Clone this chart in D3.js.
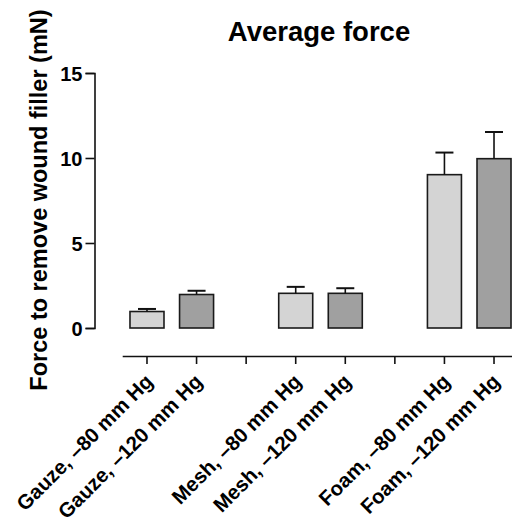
<!DOCTYPE html>
<html>
<head>
<meta charset="utf-8">
<script src="https://cdn.jsdelivr.net/npm/d3@7"></script>
<style>
  body { margin: 0; background: #fff; }
  svg text { font-family: "Liberation Sans", Arial, Helvetica, sans-serif; font-weight: bold; }
</style>
</head>
<body>
<div id="chart"></div>
<script>
	/*Data*/
	var slots = ["Gauze, \u201380 mm Hg", "Gauze, \u2013120 mm Hg", "gap1",
				 "Mesh, \u201380 mm Hg", "Mesh, \u2013120 mm Hg", "gap2",
				 "Foam, \u201380 mm Hg", "Foam, \u2013120 mm Hg"];
	var groups = ["Gauze, \u201380 mm Hg", "Gauze, \u2013120 mm Hg",
				  "Mesh, \u201380 mm Hg", "Mesh, \u2013120 mm Hg",
				  "Foam, \u201380 mm Hg", "Foam, \u2013120 mm Hg"];
	var means = [0.97, 1.97, 2.04, 2.04, 9.02, 9.96];
	var errors = [0.15, 0.22, 0.38, 0.3, 1.3, 1.57];
	var pressure = ["80", "120", "80", "120", "80", "120"];
	var yTicks = [0, 5, 10, 15];

	/*SVG Size*/
	var width = 512;
	var height = 525;

	var svg = d3.select("#chart").append("svg")
				.attr("width", width)
				.attr("height", height);

	/*Scales*/
	var x = d3.scaleBand()
			  .domain(slots)
			  .range([122.2, 518.8])
			  .paddingInner(0.314)
			  .paddingOuter(0.157);

	var y = d3.scaleLinear()
			  .domain([0, 15])
			  .range([328, 73]);

	var fill = d3.scaleOrdinal()
				 .domain(["80", "120"])
				 .range(["#d4d4d4", "#a0a0a0"]);

	/*Title*/
	svg.append("text")
	   .attr("x", 319)
	   .attr("y", 41)
	   .attr("text-anchor", "middle")
	   .attr("font-size", 27.5)
	   .text("Average force");

	/*Y axis*/
	var yAxis = svg.append("g")
				   .attr("transform", "translate(94.5,0)")
				   .call(d3.axisLeft(y).tickValues(yTicks).tickSize(9).tickPadding(3));
	yAxis.select(".domain").attr("stroke", "#111").attr("stroke-width", 1.6);
	yAxis.selectAll(".tick line").attr("stroke", "#111").attr("stroke-width", 1.6);
	yAxis.selectAll(".tick text")
		 .attr("font-size", 20)
		 .attr("fill", "#000")
		 .attr("dy", "0.36em");

	svg.append("text")
	   .attr("transform", "translate(47,200) rotate(-90)")
	   .attr("text-anchor", "middle")
	   .attr("font-size", 23.5)
	   .text("Force to remove wound filler (mN)");

	/*X axis*/
	var xAxis = svg.append("g")
				   .attr("transform", "translate(0,356)")
				   .call(d3.axisBottom(x).tickSize(8).tickSizeOuter(0)
				   .tickFormat(function(d){ return d.indexOf("gap") === 0 ? "" : d; }));
	xAxis.select(".domain").attr("stroke", "#111").attr("stroke-width", 1.6);
	xAxis.selectAll(".tick line").attr("stroke", "#111").attr("stroke-width", 1.6);
	xAxis.selectAll(".tick text")
		 .attr("font-size", 20.5)
		 .attr("fill", "#000")
		 .attr("text-anchor", "end")
		 .attr("dy", null)
		 .attr("transform", "translate(7,27) rotate(-45)")
		 .attr("y", 0)
		 .attr("x", 0);

	/*Bars*/
	var bw = x.bandwidth();
	var bars = svg.append("g");
	bars.selectAll("rect")
		.data(groups)
		.enter().append("rect")
		.attr("x", function(d){ return x(d); })
		.attr("y", function(d, i){ return y(means[i]); })
		.attr("width", bw)
		.attr("height", function(d, i){ return y(0) - y(means[i]); })
		.attr("fill", function(d, i){ return fill(pressure[i]); })
		.attr("stroke", "#1a1a1a")
		.attr("stroke-width", 1.6);

	/*Error bars*/
	var err = svg.append("g").attr("stroke", "#111");
	err.selectAll("line.v")
	   .data(groups)
	   .enter().append("line")
	   .attr("class", "v")
	   .attr("x1", function(d){ return x(d) + bw / 2; })
	   .attr("x2", function(d){ return x(d) + bw / 2; })
	   .attr("y1", function(d, i){ return y(means[i]); })
	   .attr("y2", function(d, i){ return y(means[i] + errors[i]); })
	   .attr("stroke-width", 1.6);
	err.selectAll("line.cap")
	   .data(groups)
	   .enter().append("line")
	   .attr("class", "cap")
	   .attr("x1", function(d){ return x(d) + bw / 2 - 9; })
	   .attr("x2", function(d){ return x(d) + bw / 2 + 9; })
	   .attr("y1", function(d, i){ return y(means[i] + errors[i]); })
	   .attr("y2", function(d, i){ return y(means[i] + errors[i]); })
	   .attr("stroke-width", 2);
</script>
</body>
</html>
